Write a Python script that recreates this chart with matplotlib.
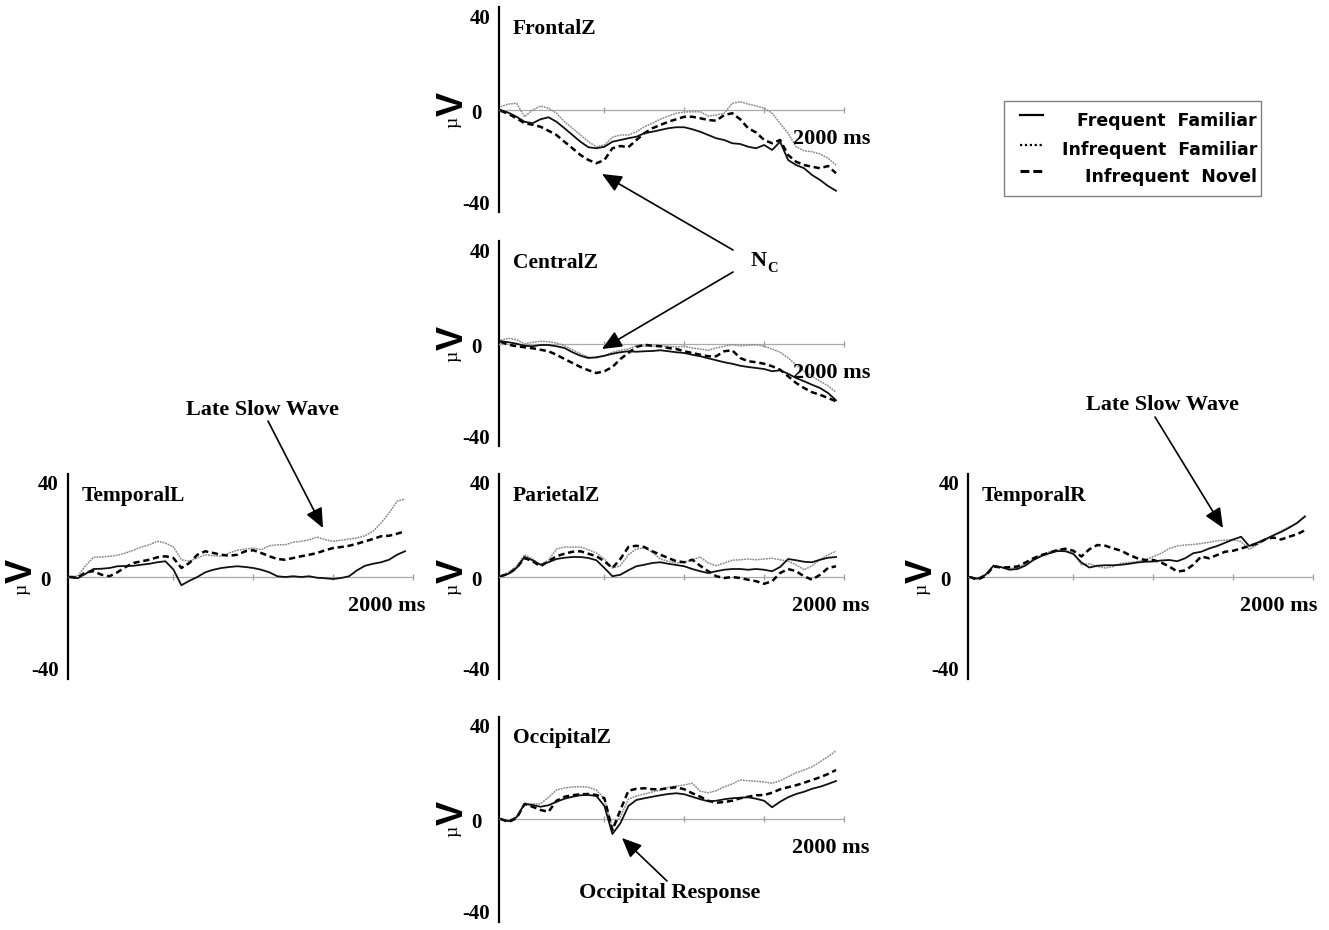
"""ERP waveforms at six electrode sites, three stimulus conditions."""
import matplotlib
matplotlib.use('Agg')
import matplotlib.pyplot as plt
from matplotlib.patches import Rectangle

W, H, DPI = 1329, 930, 100

# sample times (ms), one every 50 ms
TIME_MS = list(range(-150, 2000, 50))

# amplitudes in microvolts
FRONTAL_FF = [0, -1.1, -2.7, -4.7, -5.3, -3.7, -2.9, -4.7, -7.3, -10, -12.7, -14.9, -15.3, -14.7, -12.7,
              -12, -11.3, -10.7, -9.3, -8.7, -8, -7.3, -6.9, -6.9, -7.7, -8.7, -10, -11.3, -12, -13.3,
              -13.6, -14.7, -15.3, -14, -16, -12.7, -20, -22, -23.3, -26, -28, -30.4, -32.3]
FRONTAL_IF = [1.3, 2.4, 2.7, -2.7, 0, 1.6, 0.7, -1.3, -4.7, -7.3, -10, -12.7, -14.7, -14, -10.9,
              -10, -10, -8.7, -6.7, -5.3, -3.7, -2.4, -1.3, -0.8, -0.7, -0.7, -2.4, -2, -1.3, 2.7,
              3.3, 2.4, 1.6, 0.7, -1.3, -5.3, -9.3, -14.7, -16.3, -16.7, -17.6, -19.3, -22]
FRONTAL_IN = [-0.3, -1.6, -3.3, -5.3, -5.9, -6.7, -8.3, -10, -12.7, -15.3, -18, -20, -21.3, -20, -15.3,
              -14.4, -14.9, -12, -9.3, -7.3, -6, -4.7, -3.7, -2.7, -2.7, -3.3, -4, -4.3, -2, -1.3,
              -3.7, -7.3, -9, -12, -13.3, -12, -18, -20.7, -22, -22.7, -23.3, -22.4, -25.3]

CENTRAL_FF = [1.1, 0.7, 0.1, -0.7, -0.9, -0.4, -0.4, -0.9, -1.6, -3.3, -4.7, -5.6, -5.3, -4.7, -3.9,
              -3.3, -2.9, -3.1, -2.9, -2.8, -2.5, -2.9, -3.3, -3.6, -4.3, -4.9, -5.7, -6.5, -7.3, -7.9,
              -8.7, -9.2, -9.6, -10, -10.9, -10.5, -11.9, -13.6, -14.9, -16.3, -17.6, -19.6, -22.5]
CENTRAL_IF = [1.5, 2.3, 1.7, 0.1, 0.7, 1.1, 0.9, 0.4, -0.7, -2.3, -3.9, -5.3, -5.6, -4.7, -3.3,
              -2.5, -2, -0.7, -0.9, -0.9, -0.7, -0.9, -1.2, -0.9, -1.6, -2, -2.5, -1.6, -0.9, -0.3,
              -0.7, -0.5, -0.3, -0.9, -2, -3.3, -5.6, -8.3, -10.9, -12.9, -14.9, -16.7, -19.3]
CENTRAL_IN = [0.9, -0.3, -0.9, -1.3, -1.7, -2.3, -2.9, -4.3, -6, -7.6, -9.2, -10.5, -11.6, -10.9, -9.2,
              -6, -3.6, -1.2, -0.3, -0.7, -0.9, -1.6, -2, -2.9, -3.6, -4.3, -4.9, -4.9, -2.9, -2.5,
              -5.6, -6.9, -7.3, -7.9, -8.9, -10.3, -12.9, -15.6, -17.6, -19.3, -20.3, -21.6, -22.9]

TEMPORALL_FF = [0, -0.5, 1.3, 3.2, 3.3, 3.6, 4.3, 4.4, 4.5, 4.9, 5.3, 5.9, 6.3, 3.0, -3.3,
                -1.5, 0, 1.9, 2.9, 3.6, 4, 4.3, 4, 3.6, 2.9, 1.9, 0.3, 0, 0.3, 0,
                0.3, -0.3, -0.5, -0.8, -0.4, 0.3, 2.7, 4.5, 5.3, 5.9, 6.9, 8.9, 10.3]
TEMPORALL_IF = [0.3, 0.3, 4.5, 7.9, 8, 8.3, 8.7, 9.6, 10.7, 12, 12.9, 14.3, 13.6, 12, 6.9,
                6.3, 7.6, 8.9, 8.5, 8.3, 9.6, 10.7, 11.2, 11.6, 10.9, 12.5, 12.9, 12.9, 13.9, 14.3,
                14.9, 16, 14.9, 14.3, 14.7, 15.2, 15.6, 16.5, 18.3, 21.6, 25.6, 30.3, 31.2]
TEMPORALL_IN = [0, -0.3, 1.9, 2.3, 0.9, 0.3, 1.9, 4, 5.6, 6.3, 6.9, 7.9, 8.3, 7.6, 3.6,
                5.6, 8.9, 10.3, 9.6, 8.9, 8.5, 8.9, 10.3, 10.7, 9.6, 8.3, 7.2, 6.9, 7.6, 8.3,
                8.9, 9.6, 10.7, 11.6, 12, 12.5, 13.3, 14.3, 15.2, 16.3, 16.5, 17.3, 18.3]

PARIETAL_FF = [0.3, 1.3, 3.6, 8, 6.7, 4.9, 5.9, 7.2, 7.7, 8, 8, 7.6, 6.7, 3.6, 0.3,
               0.9, 2.7, 4.3, 4.9, 5.6, 5.9, 5.3, 4.8, 4.3, 3.2, 2.3, 1.6, 2.3, 2.9, 3.2,
               3.2, 2.9, 3.2, 2.9, 2.3, 4, 7.2, 6.7, 6.1, 5.9, 6.9, 7.7, 8]
PARIETAL_IF = [0.3, 1.9, 4.3, 8.9, 7.2, 4.9, 6.7, 11.2, 12, 11.9, 12, 10.9, 9.6, 7.2, 3.6,
               4.5, 8.9, 11.2, 11.6, 9.9, 7.2, 6.3, 5.6, 5.9, 6.9, 8, 5.6, 4.5, 5.6, 6.7,
               6.9, 7.2, 6.9, 7.2, 7.5, 6.9, 6.3, 4.9, 2.9, 4.5, 6.9, 8.9, 10.3]
PARIETAL_IN = [0.3, 1.3, 3.6, 7.6, 6.3, 4.3, 6.3, 8.3, 9.3, 10.1, 10.3, 9.3, 8.3, 6.3, 3.6,
               7.2, 12, 12.5, 12, 10.3, 8.9, 7.6, 6.3, 5.9, 6.9, 4.5, 2.3, 0.3, -0.4, 0,
               -0.4, -1.1, -1.7, -2.7, -1.7, 1.6, 3.2, 2.3, 0.3, -1.1, 0.9, 3.6, 4.3]

TEMPORALR_FF = [0, -0.7, 0.9, 4.5, 3.9, 2.9, 3.2, 4.6, 6.8, 8.4, 9.5, 10.4, 10.3, 9.2, 5.8,
                3.8, 4.5, 4.7, 4.7, 4.9, 5.3, 5.8, 6.1, 6.2, 6.6, 6.8, 6.3, 7.5, 9.5, 10.1,
                11.4, 12.4, 13.7, 15, 16.1, 12.4, 13.7, 15, 16.6, 18, 19.7, 21.6, 24.2]
TEMPORALR_IF = [0, -0.5, 0.9, 4.7, 3.9, 3.4, 3.6, 5.5, 7.1, 8.8, 10.1, 10.8, 10.7, 9.5, 4.9,
                5.3, 4.2, 3.6, 4.2, 5.5, 5.8, 6.2, 6.8, 8.2, 9.5, 11.4, 12.4, 12.8, 13, 13.4,
                13.9, 14.5, 14.7, 15, 14.1, 11.1, 12.8, 15, 16.7, 18.4, 20, 21.6, 24.6]
TEMPORALR_IN = [0, -1.1, 0.5, 4.2, 3.8, 3.9, 4.2, 5.8, 7.5, 8.8, 9.7, 10.8, 11.3, 10.5, 8.2,
                11.1, 12.8, 12.5, 11.4, 10.5, 8.8, 7.5, 6.8, 6.8, 5.8, 4.2, 2.2, 2.6, 4.9, 8.2,
                7.5, 8.8, 10.1, 10.5, 11.4, 12.4, 13.4, 15, 15.8, 15, 16.1, 17.1, 18.7]

OCCIPITAL_FF = [0, -0.9, 0.7, 6, 5.6, 4.9, 5.5, 6.9, 8.1, 8.9, 9.5, 9.6, 9.2, 5.2, -6.0,
                -1.7, 5.2, 7.6, 8.3, 8.9, 9.5, 10, 10.3, 9.9, 8.9, 7.9, 7.1, 7.3, 7.9, 8.3,
                8.5, 8.7, 8.1, 7.3, 4.7, 6.9, 8.7, 10, 10.9, 12.1, 12.9, 14, 15.2]
OCCIPITAL_IF = [0, -0.7, 0.9, 6.3, 6, 6.1, 8.7, 11.6, 12.4, 12.8, 12.9, 12.7, 11.6, 7.9, -3.5,
                0.9, 7.9, 9.2, 10, 10.8, 11.6, 12.7, 13.2, 13.6, 14.3, 11.1, 10.5, 11.3, 12.9, 14,
                15.6, 15.3, 15.1, 14.8, 14.3, 15.3, 16.9, 18.5, 19.6, 20.9, 22.9, 24.9, 27.3]
OCCIPITAL_IN = [0, -1.2, 0.3, 6, 4.9, 3.6, 2.9, 7.3, 8.9, 9.5, 9.9, 10, 9.6, 8.3, -4.5,
                3.6, 11.3, 12.1, 12.3, 11.9, 11.9, 12.3, 12.7, 11.9, 10.3, 8.9, 7.3, 6.5, 6.8, 7.3,
                8.3, 8.9, 9.5, 9.6, 10.5, 11.9, 12.7, 13.5, 14.5, 15.6, 16.7, 18, 19.6]

SITES = {
    'FrontalZ': (FRONTAL_FF, FRONTAL_IF, FRONTAL_IN),
    'CentralZ': (CENTRAL_FF, CENTRAL_IF, CENTRAL_IN),
    'TemporalL': (TEMPORALL_FF, TEMPORALL_IF, TEMPORALL_IN),
    'ParietalZ': (PARIETAL_FF, PARIETAL_IF, PARIETAL_IN),
    'TemporalR': (TEMPORALR_FF, TEMPORALR_IF, TEMPORALR_IN),
    'OccipitalZ': (OCCIPITAL_FF, OCCIPITAL_IF, OCCIPITAL_IN),
}
CONDITIONS = ['Frequent Familiar', 'Infrequent Familiar', 'Infrequent Novel']

# layout in pixels from top-left: (x of y-axis line, y of zero line, right edge of "2000 ms")
LAYOUT = {
    'FrontalZ': (499, 110, 870),
    'CentralZ': (499, 344, 870),
    'TemporalL': (68, 577, 425),
    'ParietalZ': (499, 577, 869),
    'TemporalR': (968, 577, 1317),
    'OccipitalZ': (499, 819, 869),
}
PANEL_W = 345      # px from axis line to the 2000 ms tick
HALF_H = 102.5     # px from zero line to the axis end
YLIM = 41

SERIF = 'Liberation Serif'
STYLES = [
    dict(color='#111111', lw=1.3, ls='-', zorder=4),
    dict(color='#8a8a8a', lw=1.1, ls=(0, (1.2, 0.6)), zorder=3),
    dict(color='#000000', lw=1.8, ls=(0, (2.5, 1.5)), zorder=3),
]

fig = plt.figure(figsize=(W / DPI, H / DPI), dpi=DPI)


def draw_panel(name, series, x0, y0, ms_right):
    ax = fig.add_axes([x0 / W, 1 - (y0 + HALF_H) / H, PANEL_W / W, 2 * HALF_H / H])
    ax.patch.set_alpha(0)
    ax.set_xlim(-160, 2000)
    ax.set_ylim(-YLIM, YLIM)
    for values, st in zip(series, STYLES):
        ax.plot(TIME_MS, values, **st)

    for s in ('top', 'right'):
        ax.spines[s].set_visible(False)
    ax.spines['left'].set_linewidth(1.6)
    ax.spines['bottom'].set_position(('data', 0))
    ax.spines['bottom'].set_color('#aaaaaa')
    ax.spines['bottom'].set_linewidth(0.9)
    ax.set_xticks([500, 1000, 1500, 2000])
    ax.tick_params(axis='x', direction='inout', length=5, width=0.9,
                   color='#999999', labelbottom=False)
    ax.set_yticks([])

    txt = dict(textcoords='offset pixels', fontfamily=SERIF, fontweight='bold')
    ax.annotate(name, xy=(0, 0), xycoords=('axes fraction', 'data'), xytext=(14, 81),
                ha='left', va='center', fontsize=15.5, **txt)
    ax.annotate('2000 ms', xy=(0, 0), xycoords=('axes fraction', 'data'),
                xytext=(ms_right - x0, -29), ha='right', va='center', fontsize=16, **txt)
    ax.annotate('40', xy=(0, 1), xycoords='axes fraction', xytext=(-9, -11),
                ha='right', va='center', fontsize=15, **txt)
    ax.annotate('-40', xy=(0, 0), xycoords='axes fraction', xytext=(-9, 8),
                ha='right', va='center', fontsize=15, **txt)
    ax.annotate('0', xy=(0, 0), xycoords=('axes fraction', 'data'), xytext=(-17, -4),
                ha='right', va='center', fontsize=15, **txt)
    # unit label: small mu + large bold V, rotated
    ax.annotate('V', xy=(0, 0), xycoords=('axes fraction', 'data'), xytext=(-46, 6),
                textcoords='offset pixels', ha='center', va='center', rotation=90,
                fontsize=26, fontfamily='Liberation Sans', fontweight='bold')
    ax.annotate('\u00b5', xy=(0, 0), xycoords=('axes fraction', 'data'), xytext=(-46, -12),
                textcoords='offset pixels', ha='center', va='center', rotation=90,
                fontsize=14, fontfamily=SERIF)


for site, series in SITES.items():
    draw_panel(site, series, *LAYOUT[site])

# overlay in pixel coordinates for the arrows and the legend
ov = fig.add_axes([0, 0, 1, 1])
ov.set_xlim(0, W)
ov.set_ylim(H, 0)
ov.axis('off')
ov.patch.set_alpha(0)

arrow = dict(arrowstyle='-|>,head_length=0.5,head_width=0.22', color='black', lw=1.2,
             shrinkA=0, shrinkB=0, mutation_scale=24)
lab = dict(fontfamily=SERIF, fontweight='bold', fontsize=16, ha='center', va='center')

ov.annotate('', xy=(602, 174), xytext=(733, 250), arrowprops=arrow)
ov.annotate('', xy=(602, 349), xytext=(733, 272), arrowprops=arrow)
ov.text(751, 261, 'N', fontfamily=SERIF, fontweight='bold', fontsize=16, ha='left', va='center')
ov.text(767, 268, 'C', fontfamily=SERIF, fontweight='bold', fontsize=10.5, ha='left', va='center')

ov.text(263, 410, 'Late Slow Wave', **lab)
ov.annotate('', xy=(323, 528), xytext=(268, 421), arrowprops=arrow)
ov.text(1163, 405, 'Late Slow Wave', **lab)
ov.annotate('', xy=(1223, 528), xytext=(1155, 417), arrowprops=arrow)
ov.text(670, 893, 'Occipital Response', **lab)
ov.annotate('', xy=(622, 838), xytext=(667, 881), arrowprops=arrow)

# legend box
ov.add_patch(Rectangle((1004, 101), 257, 95, fill=False, ec='#808080', lw=1.0))
legend_rows = [(115, 121), (145, 150), (171, 177)]
legend_lines = [
    dict(color='black', lw=1.6, ls='-'),
    dict(color='black', lw=1.6, ls=(0, (1, 1.2))),
    dict(color='black', lw=2.2, ls=(0, (2.9, 1.3))),
]
for label, (ly, ty), st in zip(CONDITIONS, legend_rows, legend_lines):
    ov.plot([1020, 1043], [ly, ly], **st)
    ov.text(1257, ty, label.replace(' ', '  '), fontfamily='DejaVu Sans', fontweight='bold',
            fontsize=12.5, ha='right', va='center')

fig.savefig('out.png', dpi=DPI)
